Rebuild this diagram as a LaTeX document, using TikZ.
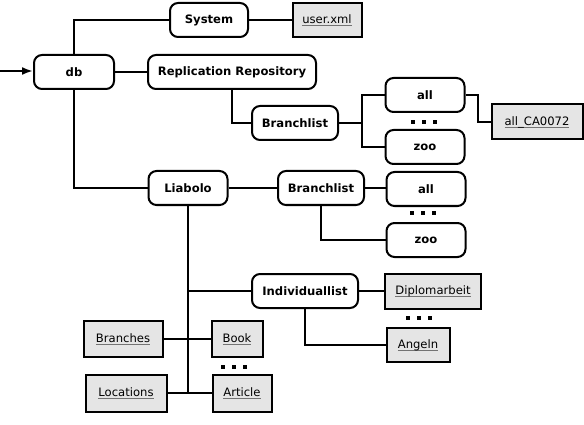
\documentclass[tikz,border=0pt]{standalone}
\usepackage{fontspec}
\setmainfont{DejaVu Sans}
\usetikzlibrary{arrows.meta}
\newcommand\gul[1]{\setbox0\hbox{#1}\rlap{\color{black!55}\rule[-2.8pt]{\wd0}{1.3pt}}\box0}
\tikzset{
  rbox/.style={draw, line width=2pt, rounded corners=8pt, fill=white, minimum height=34pt, inner sep=0pt, font=\fontsize{11.6}{13}\selectfont\bfseries},
  fbox/.style={draw, line width=2pt, fill=black!10, minimum height=35pt, inner sep=0pt, font=\fontsize{11.6}{13}\selectfont},
  conn/.style={line width=2pt},
}
\newcommand\threedots[2]{\foreach \dx in {-11,0,11}{\fill ({#1+\dx-2.2},{#2-2.2}) rectangle ({#1+\dx+2.2},{#2+2.2});}}
\begin{document}
\begin{tikzpicture}[x=1pt,y=-1pt]
\useasboundingbox (0,0) rectangle (584,425);
\node[rbox, minimum width=78pt] (sys) at (209,20) {System};
\node[fbox, minimum width=69pt, minimum height=34pt] (user) at (327,20) {\gul{user.xml}};
\node[rbox, minimum width=80pt] (db) at (74,72) {db};
\node[rbox, minimum width=168pt] (rep) at (232,72) {Replication Repository};
\node[rbox, minimum width=86pt] (bl1) at (295,123) {Branchlist};
\node[rbox, minimum width=79pt] (all1) at (425,95) {all};
\node[rbox, minimum width=79pt] (zoo1) at (425,147) {zoo};
\node[fbox, minimum width=91pt] (allca) at (537,122) {\gul{all\_CA0072}};
\node[rbox, minimum width=79pt] (lia) at (188,188) {Liabolo};
\node[rbox, minimum width=86pt] (bl2) at (321,188) {Branchlist};
\node[rbox, minimum width=79pt] (all2) at (426,189) {all};
\node[rbox, minimum width=79pt] (zoo2) at (426,240) {zoo};
\node[rbox, minimum width=106pt] (ind) at (305,291) {Individuallist};
\node[fbox, minimum width=96pt] (dip) at (433,291) {\gul{Diplomarbeit}};
\node[fbox, minimum width=63pt, minimum height=34pt] (ang) at (418,345) {\gul{Angeln}};
\node[fbox, minimum width=79pt, minimum height=36pt] (br) at (123,339) {\gul{Branches}};
\node[fbox, minimum width=51pt, minimum height=36pt] (book) at (237,339) {\gul{Book}};
\node[fbox, minimum width=81pt, minimum height=37pt] (loc) at (126,393) {\gul{Locations}};
\node[fbox, minimum width=59pt, minimum height=37pt] (art) at (242,393) {\gul{Article}};
\coordinate (start) at (0,71);
\coordinate (j1) at (362,123);
\coordinate (j2) at (478,95);
\coordinate (vb) at (188,393);
% connectors
\draw[conn, -{Latex[length=11pt,width=8pt]}] (start) -- (db.west |- start);
\draw[conn] (db.north) |- (sys.west);
\draw[conn] (db.south) |- (lia.west);
\draw[conn] (db) -- (rep);
\draw[conn] (sys) -- (user);
\draw[conn] (rep.south) |- (bl1.west);
\draw[conn] (bl1.east) -- (j1);
\draw[conn] (j1) |- (all1.west);
\draw[conn] (j1) |- (zoo1.west);
\draw[conn] (all1.east) -- (j2) |- (allca.west);
\draw[conn] (lia) -- (bl2);
\draw[conn] (bl2.east) -- (all2.west |- bl2.east);
\draw[conn] (bl2.south) |- (zoo2.west);
\draw[conn] (lia.south) -- (vb);
\draw[conn] (lia.south |- ind.west) -- (ind.west);
\draw[conn] (ind) -- (dip);
\draw[conn] (ind.south) |- (ang.west);
\draw[conn] (br) -- (book);
\draw[conn] (loc.east) -- (art.west);
% dots
\threedots{424}{122}
\threedots{423}{213}
\threedots{419}{318}
\threedots{234}{367}
\end{tikzpicture}
\end{document}
